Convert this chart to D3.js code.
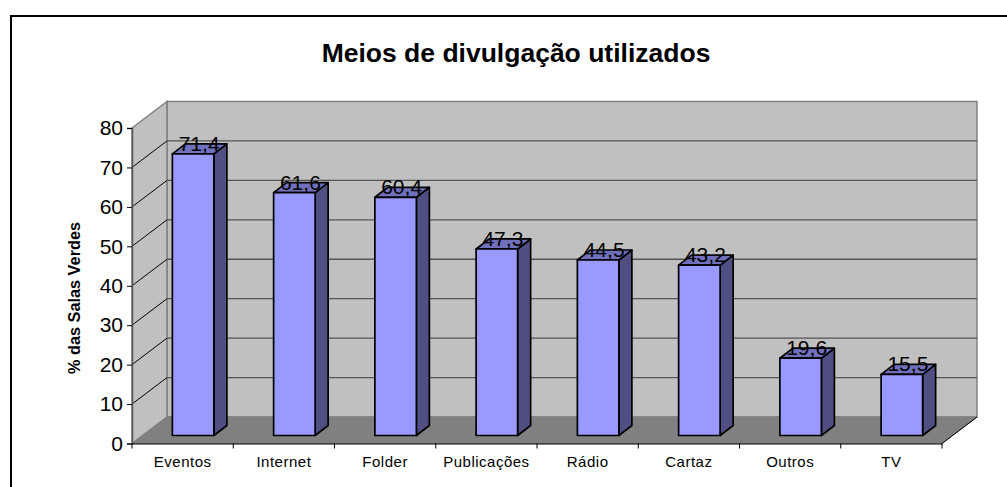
<!DOCTYPE html>
<html><head><meta charset="utf-8">
<script src="https://cdn.jsdelivr.net/npm/d3@7/dist/d3.min.js"></script>
<style>html,body{margin:0;padding:0;background:#fff}svg{display:block}text{font-family:"Liberation Sans",Arial,sans-serif}</style>
</head><body><svg id="c" width="1007" height="487"></svg>
<script>
const categories=["Eventos","Internet","Folder","Publicações","Rádio","Cartaz","Outros","TV"];
const valueLabels=["71,4","61,6","60,4","47,3","44,5","43,2","19,6","15,5"];
const seriesValues=[71.4,61.6,60.4,47.3,44.5,43.2,19.6,15.5];
const yTicks=[0,10,20,30,40,50,60,70,80];
const titleText="Meios de divulgação utilizados";
const yTitle="% das Salas Verdes";

const svg=d3.select("#c");
const W=1007,H=487;
const x=d3.scaleBand().domain(categories).range([132,942]);
const y=d3.scaleLinear().domain([0,80]).range([443.5,128]);
const dep={x:35,y:-26.5};
const barBase={x:10.5,y:-8};
const barDepth={x:13,y:-10};
const barW=41.5;
const poly=p=>d3.line()(p)+"Z";

svg.append("rect").attr("x",11).attr("y",16).attr("width",W).attr("height",H).attr("fill","#fff").attr("stroke","#000").attr("stroke-width",2);

const x0=x.range()[0],x1=x.range()[1],y0=y(0),yT=y(80);
svg.append("path").attr("d",poly([[x0+dep.x,yT+dep.y],[x1+dep.x,yT+dep.y],[x1+dep.x,y0+dep.y],[x0+dep.x,y0+dep.y]])).attr("fill","#c0c0c0").attr("stroke","#808080").attr("stroke-width",1.5);
svg.append("path").attr("d",poly([[x0,yT],[x0+dep.x,yT+dep.y],[x0+dep.x,y0+dep.y],[x0,y0]])).attr("fill","#c0c0c0").attr("stroke","#808080").attr("stroke-width",1.5);
svg.append("path").attr("d",poly([[x0,y0],[x0+dep.x,y0+dep.y],[x1+dep.x,y0+dep.y],[x1,y0]])).attr("fill","#808080").attr("stroke","#808080").attr("stroke-width",1);
yTicks.slice(1,-1).forEach(t=>{
  svg.append("path").attr("d",d3.line()([[x0,y(t)],[x0+dep.x,y(t)+dep.y]])).attr("fill","none").attr("stroke","#000").attr("stroke-width",1);
  svg.append("path").attr("d",d3.line()([[x0+dep.x,y(t)+dep.y],[x1+dep.x,y(t)+dep.y]])).attr("fill","none").attr("stroke","#555").attr("stroke-width",1.3);
});
svg.append("path").attr("d",d3.line()([[x1,y0],[x1+dep.x,y0+dep.y]])).attr("fill","none").attr("stroke","#000").attr("stroke-width",1);
const gy=svg.append("g").attr("transform",`translate(${x0},0)`).call(d3.axisLeft(y).tickValues(yTicks).tickSize(5).tickPadding(4));
gy.selectAll("text").attr("font-size",21).attr("fill","#000");
gy.select(".domain").attr("stroke","#555").attr("stroke-width",1.5);
const gx=svg.append("g").attr("transform",`translate(0,${y0})`).call(d3.axisBottom(x).tickSize(0).tickPadding(13));
gx.selectAll("text").attr("font-size",15).attr("fill","#000").attr("letter-spacing",0.5);
gx.select(".domain").attr("stroke","#000");
gx.selectAll(".tk").data(categories.concat([null])).enter().append("line").attr("class","tk")
  .attr("x1",(d,i)=>x0+i*x.step()).attr("x2",(d,i)=>x0+i*x.step()).attr("y1",0).attr("y2",5).attr("stroke","#000");
categories.forEach((c,i)=>{
  const v=seriesValues[i];
  const l=x(c)+(x.bandwidth()-barW)/2+barBase.x, r=l+barW;
  const b=y(0)+barBase.y, t=y(v)+barBase.y;
  const g=svg.append("g").attr("stroke","#000").attr("stroke-width",1.7).attr("stroke-linejoin","round");
  g.append("path").attr("d",poly([[r,b],[r+barDepth.x,b+barDepth.y],[r+barDepth.x,t+barDepth.y],[r,t]])).attr("fill","#4f4f83");
  g.append("path").attr("d",poly([[l,t],[r,t],[r+barDepth.x,t+barDepth.y],[l+barDepth.x,t+barDepth.y]])).attr("fill","#7070bc");
  g.append("path").attr("d",poly([[l,t],[r,t],[r,b],[l,b]])).attr("fill","#9999ff");
  svg.append("text").attr("x",(l+r)/2+6).attr("y",t-3).attr("text-anchor","middle").attr("font-size",21).attr("fill","#000").text(valueLabels[i]);
});
svg.append("text").attr("x",516).attr("y",62).attr("text-anchor","middle").attr("font-size",26.5).attr("font-weight","bold").attr("fill","#000").text(titleText);
svg.append("text").attr("transform","translate(80,298) rotate(-90)").attr("text-anchor","middle").attr("font-size",16.3).attr("font-weight","bold").attr("fill","#000").text(yTitle);
</script></body></html>
